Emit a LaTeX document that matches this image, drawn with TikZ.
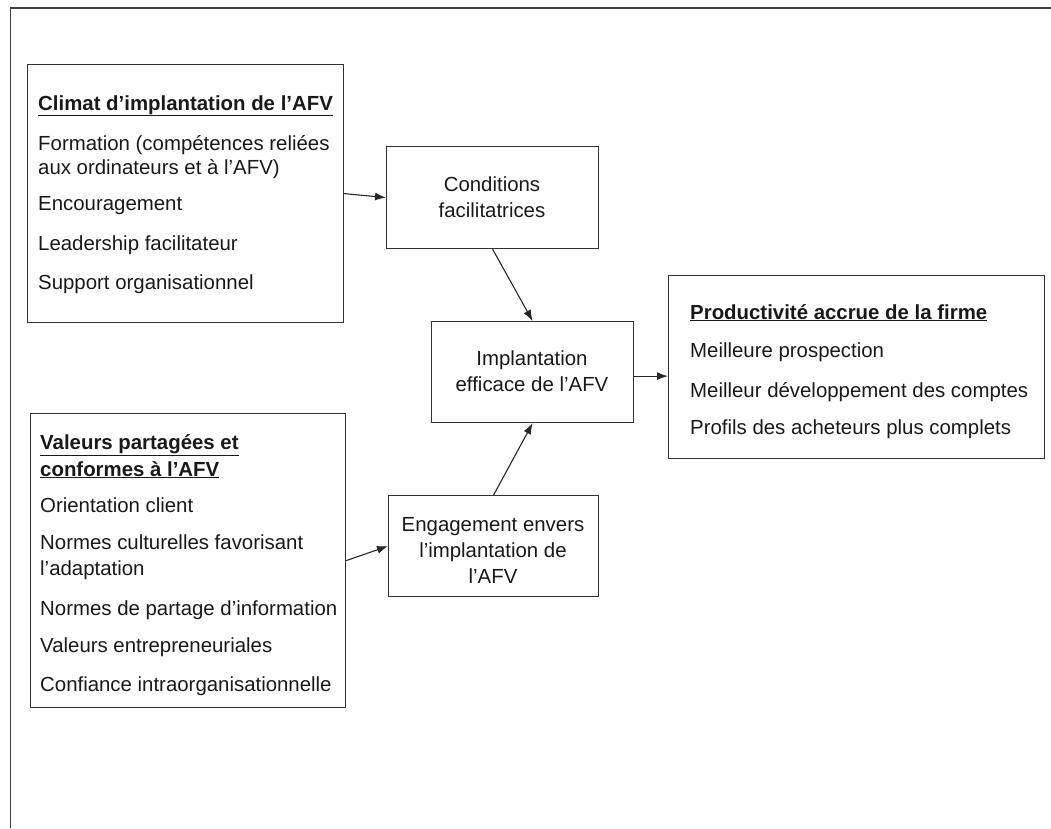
\documentclass[tikz,border=0pt]{standalone}
\usepackage{fontspec}
\setmainfont{Liberation Sans}
\usetikzlibrary{arrows.meta}
\begin{document}
\begin{tikzpicture}[x=1pt,y=-1pt,
  bx/.style={draw=black!80, line width=1.2pt, inner sep=0pt, anchor=north west},
  ln/.style={anchor=base west, inner sep=0pt, text=black!90, font=\fontsize{20.4}{24}\selectfont},
  mid/.style={align=center, inner sep=0pt, text=black!90, font=\fontsize{20.4}{26}\selectfont},
  arr/.style={draw=black!85, line width=1.1pt, -{Latex[length=11pt,width=8pt]}},
  frame/.style={draw=black!75, line width=1.2pt}]
\useasboundingbox (0,0) rectangle (1051,828);
% outer frame (top and left)
\coordinate (ftl) at (10.5,8);
\coordinate (ftr) at (1051,8);
\coordinate (fbl) at (10.5,828);
\draw[frame] (fbl) -- (ftl) -- (ftr);
% boxes
\node[bx, minimum width=316pt, minimum height=258pt] (climat) at (27,64) {};
\node[bx, minimum width=315pt, minimum height=294pt] (valeurs) at (30,413) {};
\node[bx, minimum width=212pt, minimum height=102pt] (cond) at (386,146) {};
\node[bx, minimum width=202pt, minimum height=101pt] (impl) at (431,321) {};
\node[bx, minimum width=376pt, minimum height=183pt] (prod) at (668,275) {};
\node[bx, minimum width=210pt, minimum height=101pt] (eng) at (388,495) {};
% Climat text
\node[ln] (c1) at (38,110) {\underline{\textbf{Climat d’implantation de l’AFV}}};
\node[ln] (c2) at (38,150) {Formation (compétences reliées};
\node[ln] (c3) at (38,174) {aux ordinateurs et à l’AFV)};
\node[ln] (c4) at (38,210) {Encouragement};
\node[ln] (c5) at (38,250) {Leadership facilitateur};
\node[ln] (c6) at (38,289) {Support organisationnel};
% Valeurs text
\node[ln] (v1) at (40,449) {\underline{\textbf{Valeurs partagées et}}};
\node[ln] (v2) at (40,476) {\underline{\textbf{conformes à l’AFV}}};
\node[ln] (v3) at (40,512) {Orientation client};
\node[ln] (v4) at (40,549) {Normes culturelles favorisant};
\node[ln] (v5) at (40,575) {l’adaptation};
\node[ln] (v6) at (40,615) {Normes de partage d’information};
\node[ln] (v7) at (40,652) {Valeurs entrepreneuriales};
\node[ln] (v8) at (40,691) {Confiance intraorganisationnelle};
% Productivite text
\node[ln] (p1) at (690,319) {\underline{\textbf{Productivité accrue de la firme}}};
\node[ln] (p2) at (690,357) {Meilleure prospection};
\node[ln] (p3) at (690,397) {Meilleur développement des comptes};
\node[ln] (p4) at (690,434) {Profils des acheteurs plus complets};
% middle texts
\node[mid] (condt) at (492,197) {Conditions\\facilitatrices};
\node[mid] (implt) at (532,371) {Implantation\\efficace de l’AFV};
\node[mid] (engt) at (493,550) {Engagement envers\\l’implantation de\\l’AFV};
% connectors
\draw[arr] (climat.east) -- (cond.west);
\draw[arr] (cond.south) -- (impl.north);
\draw[arr] ([yshift=-4pt]impl.east) -- ([yshift=-4pt]impl.east -| prod.west);
\draw[arr] (valeurs.east) -- (eng.west);
\draw[arr] (eng.north) -- (impl.south);
\end{tikzpicture}
\end{document}
